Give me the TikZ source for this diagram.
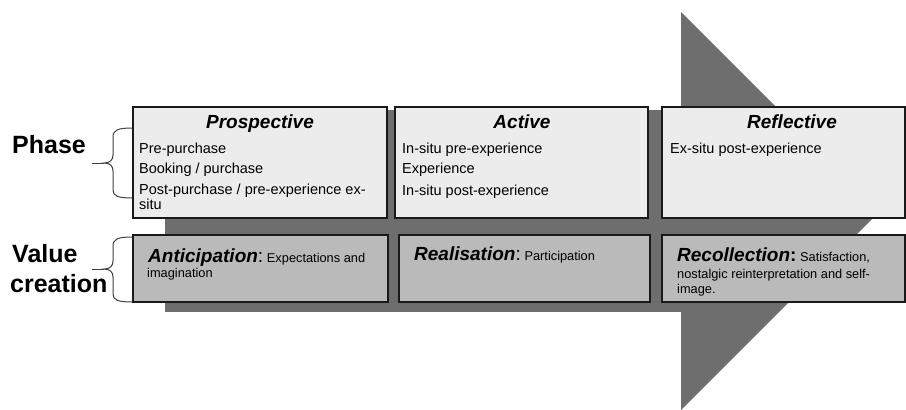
\documentclass[tikz,border=0pt]{standalone}
\usepackage{fontspec}
\setmainfont{Liberation Sans}
\definecolor{arrowgray}{gray}{0.43}
\definecolor{phasefill}{gray}{0.925}
\definecolor{valuefill}{gray}{0.73}
\definecolor{edgegray}{gray}{0.1}
\definecolor{bracegray}{gray}{0.25}
\newcommand{\ttlfont}{\fontsize{19}{22}\selectfont\bfseries\itshape}
\newcommand{\itmfont}{\fontsize{14.5}{17}\selectfont}
\newcommand{\smlfont}{\fontsize{12.8}{15}\selectfont}
\begin{document}
\begin{tikzpicture}[x=1pt,y=-1pt,
  pbox/.style={draw=edgegray, line width=1.3pt, fill=phasefill, inner sep=0pt, outer sep=0pt},
  vbox/.style={draw=edgegray, line width=1.3pt, fill=valuefill, inner sep=0pt, outer sep=0pt},
  ttl/.style={font=\ttlfont, inner sep=0pt, anchor=base},
  itm/.style={font=\itmfont, inner sep=0pt, anchor=base west},
  vtxt/.style={inner sep=0pt, anchor=base west},
  big/.style={font=\fontsize{25}{30}\selectfont\bfseries, inner sep=0pt, anchor=base west},
  brc/.style={draw=bracegray, line width=1pt}]
\useasboundingbox (0,0) rectangle (906,410);
% arrow
\fill[arrowgray] (165,110) rectangle (682,312);
\fill[arrowgray] (681,12) -- (880,211) -- (681,410) -- cycle;
% phase boxes
\node[pbox, minimum width=254pt, minimum height=111pt] (pro) at (260,162.5) {};
\node[pbox, minimum width=253pt, minimum height=111pt] (act) at (521.5,162.5) {};
\node[pbox, minimum width=243pt, minimum height=111pt] (ref) at (783.5,162.5) {};
% value boxes
\node[vbox, minimum width=255pt, minimum height=67pt] (ant) at (260.5,268.5) {};
\node[vbox, minimum width=251pt, minimum height=67pt] (rea) at (524.5,268.5) {};
\node[vbox, minimum width=243pt, minimum height=67pt] (rec) at (783.5,268.5) {};
% titles
\node[ttl] (proT) at (260,128) {Prospective};
\node[ttl] (actT) at (522,128) {Active};
\node[ttl] (refT) at (792,128) {Reflective};
% phase items
\node[itm] (pro1) at (139,153) {Pre-purchase};
\node[itm] (pro2) at (139,173) {Booking / purchase};
\node[itm] (pro3) at (139,194) {Post-purchase / pre-experience ex-};
\node[itm] (pro4) at (139,209) {situ};
\node[itm] (act1) at (402,153) {In-situ pre-experience};
\node[itm] (act2) at (402,173) {Experience};
\node[itm] (act3) at (402,195) {In-situ post-experience};
\node[itm] (ref1) at (670,153) {Ex-situ post-experience};
% value texts
\node[vtxt] (antT) at (148,262) {{\ttlfont Anticipation}{\fontsize{19}{22}\selectfont:} {\smlfont Expectations and}};
\node[vtxt, font=\smlfont] (antT2) at (147,277) {imagination};
\node[vtxt] (reaT) at (414,260) {{\ttlfont Realisation}{\fontsize{19}{22}\selectfont:} {\smlfont Participation}};
\begin{scope}
\clip (662,236) rectangle (905,295.5);
\node[vtxt] (recT) at (677,261) {{\ttlfont Recollection}{\fontsize{19}{22}\selectfont\bfseries:} {\smlfont Satisfaction,}};
\node[vtxt, font=\smlfont] (recT2) at (677,278) {nostalgic reinterpretation and self-};
\node[vtxt, font=\smlfont] (recT3) at (677,293) {image.};
\end{scope}
% row labels
\node[big] (phase) at (12,153) {Phase};
\node[big] (value) at (12,262) {Value};
\node[big] (creation) at (10,292) {creation};
% braces
\draw[brc] (132,128) .. controls (118,128) and (113,130) .. (113,137) -- (113,155)
  .. controls (113,160) and (110,163) .. (104,163)
  .. controls (110,163) and (113,166) .. (113,171) -- (113,190)
  .. controls (113,196) and (118,198) .. (132,198);
\draw[brc] (104,163) -- (92,163);
\draw[brc] (132,237) .. controls (118,237) and (113,239) .. (113,246) -- (113,261)
  .. controls (113,266) and (110,269) .. (104,269)
  .. controls (110,269) and (113,272) .. (113,277) -- (113,294)
  .. controls (113,300) and (118,302) .. (132,302);
\draw[brc] (104,269) -- (92,269);
\end{tikzpicture}
\end{document}
